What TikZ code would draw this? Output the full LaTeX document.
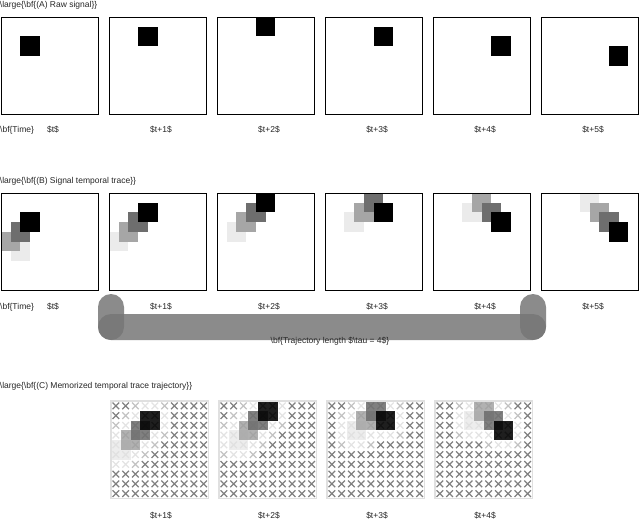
\documentclass[tikz,border=0pt]{standalone}
\usepackage{fontspec}
\setmainfont{Liberation Sans}
\def\PX{{1,0,1,2,3,4,5,6,7}}
\def\PY{{5,4,3,2,1,0,1,2,3}}
\newcommand\getpos[1]{%
  \pgfmathtruncatemacro\gxA{\PX[#1]}\pgfmathtruncatemacro\gyA{\PY[#1]}%
  \pgfmathtruncatemacro\gxB{\PX[#1+1]}\pgfmathtruncatemacro\gyB{\PY[#1+1]}%
  \pgfmathtruncatemacro\gxC{\PX[#1+2]}\pgfmathtruncatemacro\gyC{\PY[#1+2]}%
  \pgfmathtruncatemacro\gxD{\PX[#1+3]}\pgfmathtruncatemacro\gyD{\PY[#1+3]}}
\newcommand\tracefill{%
  \fill[tr3] (\gxA,\gyA) rectangle ++(2,2);
  \fill[tr2] (\gxB,\gyB) rectangle ++(2,2);
  \fill[tr1] (\gxC,\gyC) rectangle ++(2,2);
  \fill[tr0] (\gxD,\gyD) rectangle ++(2,2);}
\begin{document}
\begin{tikzpicture}[x=1pt,y=-1pt,
  declare function={chd(\qc,\qr,\qa,\qb)=max(0,\qa-\qc,\qc-\qa-1,\qb-\qr,\qr-\qb-1);
                    mh(\qc,\qr,\qa,\qb)=max(0,\qa-\qc,\qc-\qa-1)+max(0,\qb-\qr,\qr-\qb-1);},
  lbl/.style={font=\fontsize{8.5}{10}\selectfont, inner sep=0pt, text=black!85},
  panel/.style={draw=black, line width=1.3pt, minimum size=97pt, inner sep=0pt, anchor=north west},
  tr0/.style={fill=black},
  tr1/.style={fill=black!57},
  tr2/.style={fill=black!35},
  tr3/.style={fill=black!8},
  xmark/.style={line width=1.35pt},
  xdark/.style={draw=black!50},
  xlight/.style={draw=black!24},
  xfaint/.style={draw=black!11},
  xin/.style={draw=black!40},
  gridframe/.style={draw=black!12, line width=1.4pt},
  barfill/.style={fill=black!54, fill opacity=0.84}]
\useasboundingbox (0,0) rectangle (640,520);

% ---------- titles ----------
\node[lbl, anchor=base west] (titleA) at (-0.3,7.5) {\textbackslash large\{\textbackslash bf\{(A) Raw signal\}\}};
\node[lbl, anchor=base west] (titleB) at (-0.3,183.5) {\textbackslash large\{\textbackslash bf\{(B) Signal temporal trace\}\}};
\node[lbl, anchor=base west] (titleC) at (-0.3,388.5) {\textbackslash large\{\textbackslash bf\{(C) Memorized temporal trace trajectory\}\}};

% ---------- (A) raw signal ----------
\foreach \i in {0,...,5}{
  \pgfmathtruncatemacro\gxD{\PX[\i+3]}\pgfmathtruncatemacro\gyD{\PY[\i+3]}
  \pgfmathsetmacro\bx{1+108*\i}
  \begin{scope}[shift={(\bx,17)},x=9.7pt,y=-9.7pt]
    \fill[tr0] (\gxD,\gyD) rectangle ++(2,2);
  \end{scope}
  \node[panel] (bA\i) at (\bx,17) {};
}
\node[lbl, anchor=base west] (timeA) at (0,132) {\textbackslash bf\{Time\}};
\foreach \i/\t in {0/{\$t\$},1/{\$t+1\$},2/{\$t+2\$},3/{\$t+3\$},4/{\$t+4\$},5/{\$t+5\$}}{
  \pgfmathsetmacro\lx{53+108*\i}
  \node[lbl, anchor=base] (lA\i) at (\lx,132) {\t};
}

% ---------- (B) temporal trace ----------
\foreach \i in {0,...,5}{
  \getpos{\i}
  \pgfmathsetmacro\bx{1+108*\i}
  \begin{scope}[shift={(\bx,193)},x=9.7pt,y=-9.7pt]
    \tracefill
  \end{scope}
  \node[panel] (bB\i) at (\bx,193) {};
}
\node[lbl, anchor=base west] (timeB) at (0,309) {\textbackslash bf\{Time\}};
\foreach \i/\t in {0/{\$t\$},1/{\$t+1\$},2/{\$t+2\$},3/{\$t+3\$},4/{\$t+4\$},5/{\$t+5\$}}{
  \pgfmathsetmacro\lx{53+108*\i}
  \node[lbl, anchor=base] (lB\i) at (\lx,309) {\t};
}

% ---------- trajectory bar ----------
\fill[barfill, rounded corners=13pt] (98,294) rectangle (124,340);
\fill[barfill, rounded corners=13pt] (98,314) rectangle (546,340);
\fill[barfill, rounded corners=13pt] (520,294) rectangle (546,340);
\node[lbl, anchor=base] (traj) at (330,343.5) {\textbackslash bf\{Trajectory length \$\textbackslash tau = 4\$\}};

% ---------- (C) memorized trajectory ----------
\foreach \k in {1,...,4}{
  \getpos{\k}
  \pgfmathsetmacro\gx{3+108*\k}
  \begin{scope}[shift={(\gx,401)},x=9.75pt,y=-9.75pt]
    \foreach \ci in {0,...,9}{\foreach \ri in {0,...,9}{
      \pgfmathtruncatemacro\dd{min(chd(\ci,\ri,\gxA,\gyA),chd(\ci,\ri,\gxB,\gyB),chd(\ci,\ri,\gxC,\gyC),chd(\ci,\ri,\gxD,\gyD))}
      \pgfmathtruncatemacro\mm{min(mh(\ci,\ri,\gxA,\gyA),mh(\ci,\ri,\gxB,\gyB),mh(\ci,\ri,\gxC,\gyC),mh(\ci,\ri,\gxD,\gyD))}
      \ifnum\dd>1 \def\xc{xdark}\else\ifnum\dd=1 \ifnum\mm=1 \def\xc{xfaint}\else\def\xc{xlight}\fi\else\def\xc{xin}\fi\fi
      \draw[xmark,\xc] (\ci+0.16,\ri+0.16) -- (\ci+0.84,\ri+0.84) (\ci+0.84,\ri+0.16) -- (\ci+0.16,\ri+0.84);
    }}
    \begin{scope}[fill opacity=0.88]
      \tracefill
    \end{scope}
    \draw[gridframe] (0,0) rectangle (10,10);
  \end{scope}
}
\foreach \k/\t in {1/{\$t+1\$},2/{\$t+2\$},3/{\$t+3\$},4/{\$t+4\$}}{
  \pgfmathsetmacro\lx{53+108*\k}
  \node[lbl, anchor=base] (lC\k) at (\lx,518) {\t};
}
\end{tikzpicture}
\end{document}
